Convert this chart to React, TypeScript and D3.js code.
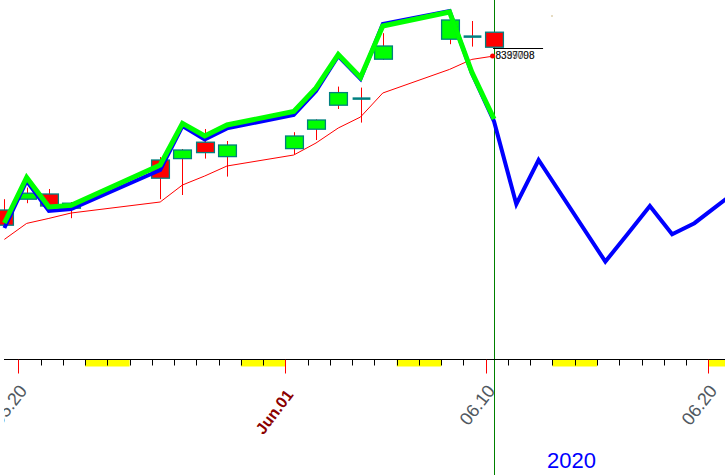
import React from "react";
import * as d3 from "d3";

const W = 725;
const H = 475;

// Candles (daily OHLC)
const candleDates = [
  "2020-05-19", "2020-05-20", "2020-05-21", "2020-05-22", "2020-05-26", "2020-05-27",
  "2020-05-28", "2020-05-29", "2020-06-01", "2020-06-02", "2020-06-03", "2020-06-04",
  "2020-06-05", "2020-06-08", "2020-06-09", "2020-06-10",
];
const opens = [76.25, 76.79, 77.05, 76.34, 78.75, 78.82, 79.64, 78.92, 79.32, 80.29, 81.49, 81.82, 83.79, 84.79, 84.92, 85.14];
const highs = [76.79, 77.37, 77.3, 76.65, 78.9, 79.3, 80.3, 79.7, 80.14, 80.78, 82.42, 82.37, 85.09, 86.0, 85.7, 85.15];
const lows = [75.45, 76.59, 76.35, 75.84, 76.79, 77.0, 78.82, 77.92, 79.05, 79.75, 81.3, 80.62, 83.75, 84.54, 84.42, 84.38];
const closes = [75.49, 77.09, 76.45, 76.59, 77.84, 79.25, 79.12, 79.5, 79.95, 80.75, 82.12, 81.82, 84.45, 85.75, 84.92, 84.39];

// Moving average (thin red)
const maValues = [74.78, 75.58, 75.83, 76.1, 76.65, 77.5, 77.95, 78.45, 79.0, 79.6, 80.35, 80.9, 82.1, 83.28, 83.78, 83.95];

// Green line (fit) on candle dates
const greenValues = [75.6, 77.88, 76.4, 76.48, 78.5, 80.58, 79.95, 80.5, 81.18, 82.35, 84.03, 82.88, 85.45, 86.15, 83.15, 80.8];

// Blue line (fit + projection)
const blueDates = [
  ...candleDates,
  "2020-06-11", "2020-06-12", "2020-06-15", "2020-06-16", "2020-06-17", "2020-06-18", "2020-06-19", "2020-06-22",
];
const blueValues = [
  75.35, 77.7, 76.2, 76.3, 78.25, 80.45, 79.78, 80.33, 81.0, 82.2, 83.95, 82.8, 85.55, 86.2, 83.1, 80.68,
  76.54, 78.75, 73.67, 75.05, 76.45, 75.04, 75.59, 78.15,
];

// Axis labels
const labelDates = ["2020-05-20", "2020-06-01", "2020-06-10", "2020-06-20"];
const labelTexts = ["05.20", "Jun.01", "06.10", "06.20"];
const labelMonth = [false, true, false, false];
const yearLabel = "2020";
const priceLabelA = "8397098";
const priceLabelB = "8339708";

export default function App() {
  const parse = d3.timeParse("%Y-%m-%d");
  const p = (s: string) => parse(s) as Date;
  const x = d3.scaleTime().domain([p("2020-05-20"), p("2020-06-20")]).range([18.3, 708.3]);
  const y = d3.scaleLinear().domain([70, 88]).range([335, -25]);
  const cx = (s: string) => x(d3.timeHour.offset(p(s), 9));
  const day = x(p("2020-05-21")) - x(p("2020-05-20"));
  const bw = day * 0.8;
  const line = d3.line<[number, number]>().x((d) => d[0]).y((d) => d[1]);

  const axisY = 359.5;
  const allDays = d3.timeDay.range(p("2020-05-16"), p("2020-06-23"));
  const weekendSats = allDays.filter((d) => d.getDay() === 6);

  const maPath = line(candleDates.map((d, i) => [cx(d), y(maValues[i])]));
  const greenPath = line(candleDates.map((d, i) => [cx(d), y(greenValues[i])]));
  const bluePath = line(blueDates.map((d, i) => [cx(d), y(blueValues[i])]));

  const lastDate = candleDates[candleDates.length - 1];
  const lastX = cx(lastDate);
  const lastMA = y(maValues[maValues.length - 1]);
  const vx = Math.round(lastX) + 0.5;

  return (
    <svg
      width={W}
      height={H}
      style={{ position: "absolute", left: 0, top: 0, background: "#fff" }}
      fontFamily="'Liberation Sans', Arial, sans-serif"
    >
      <defs>
        <clipPath id="axisClip">
          <rect x={4} y={axisY} width={W - 4} height={H - axisY} />
        </clipPath>
      </defs>
      <rect x={0} y={0} width={W} height={H} fill="#ffffff" />
      {/* cursor vertical line */}
      <line x1={vx} x2={vx} y1={0} y2={H} stroke="#008000" strokeWidth={1} />

      {/* moving average */}
      <path d={maPath || ""} fill="none" stroke="#ff0000" strokeWidth={1} />

      {/* candles */}
      {candleDates.map((d, i) => {
        const c = Math.round(cx(d)) + 0.5;
        const o = y(opens[i]);
        const cl = y(closes[i]);
        const top = Math.min(o, cl);
        const bot = Math.max(o, cl);
        const doji = Math.abs(bot - top) < 1.5;
        const up = closes[i] > opens[i];
        return (
          <g key={d}>
            <line x1={c} x2={c} y1={y(highs[i])} y2={y(lows[i])} stroke="#ff0000" strokeWidth={1} />
            {doji ? (
              <line x1={c - bw / 2} x2={c + bw / 2} y1={top} y2={top} stroke="#008080" strokeWidth={2.5} />
            ) : (
              <rect
                x={c - bw / 2}
                y={top}
                width={bw}
                height={bot - top}
                fill={up ? "#00ff00" : "#ff0000"}
                stroke="#008080"
                strokeWidth={1.3}
              />
            )}
          </g>
        );
      })}

      {/* fit lines */}
      <path d={bluePath || ""} fill="none" stroke="#0000ff" strokeWidth={4} />
      <path d={greenPath || ""} fill="none" stroke="#00ff00" strokeWidth={5} />

      {/* last price marker + label */}
      <circle cx={lastX - 1.5} cy={lastMA} r={2.5} fill="#ff0000" />
      <line x1={lastX - 1} x2={lastX + 49} y1={48.5} y2={48.5} stroke="#000" strokeWidth={1} />
      <text x={lastX + 1.5} y={58.5} fontSize={10} fill="#555">{priceLabelB}</text>
      <text x={lastX + 1.5} y={58.5} fontSize={10} fill="#111" opacity={0.85}>{priceLabelA}</text>
      <rect x={551} y={15} width={2} height={2} fill="#e6dcc2" />

      {/* x axis */}
      {weekendSats.map((d) => (
        <rect
          key={+d}
          x={x(d)}
          y={axisY}
          width={x(d3.timeDay.offset(d, 2)) - x(d)}
          height={7}
          fill="#ffff00"
        />
      ))}
      <line x1={4} x2={W} y1={axisY} y2={axisY} stroke="#000" strokeWidth={1} />
      {allDays.map((d) => {
        const tx = Math.round(x(d)) + 0.5;
        return <line key={+d} x1={tx} x2={tx} y1={axisY} y2={axisY + 6} stroke="#000" strokeWidth={1} />;
      })}
      <g clipPath="url(#axisClip)">
        {labelDates.map((s, i) => {
          const tx = Math.round(x(p(s))) + 0.5;
          return (
            <g key={s}>
              <line x1={tx} x2={tx} y1={axisY} y2={axisY + 14} stroke="#ff0000" strokeWidth={1} />
              <text
                transform={`translate(${tx + (labelMonth[i] ? 8.5 : 9.5)},${labelMonth[i] ? 395 : 391}) rotate(${labelMonth[i] ? -53 : -52})`}
                textAnchor="end"
                fontSize={labelMonth[i] ? 16 : 18}
                fontWeight={labelMonth[i] ? "bold" : "normal"}
                fill={labelMonth[i] ? "#8b0000" : "#505860"}
              >
                {labelTexts[i]}
              </text>
            </g>
          );
        })}
      </g>
      <text x={547} y={468} fontSize={22} fill="#0000ff">{yearLabel}</text>
    </svg>
  );
}
